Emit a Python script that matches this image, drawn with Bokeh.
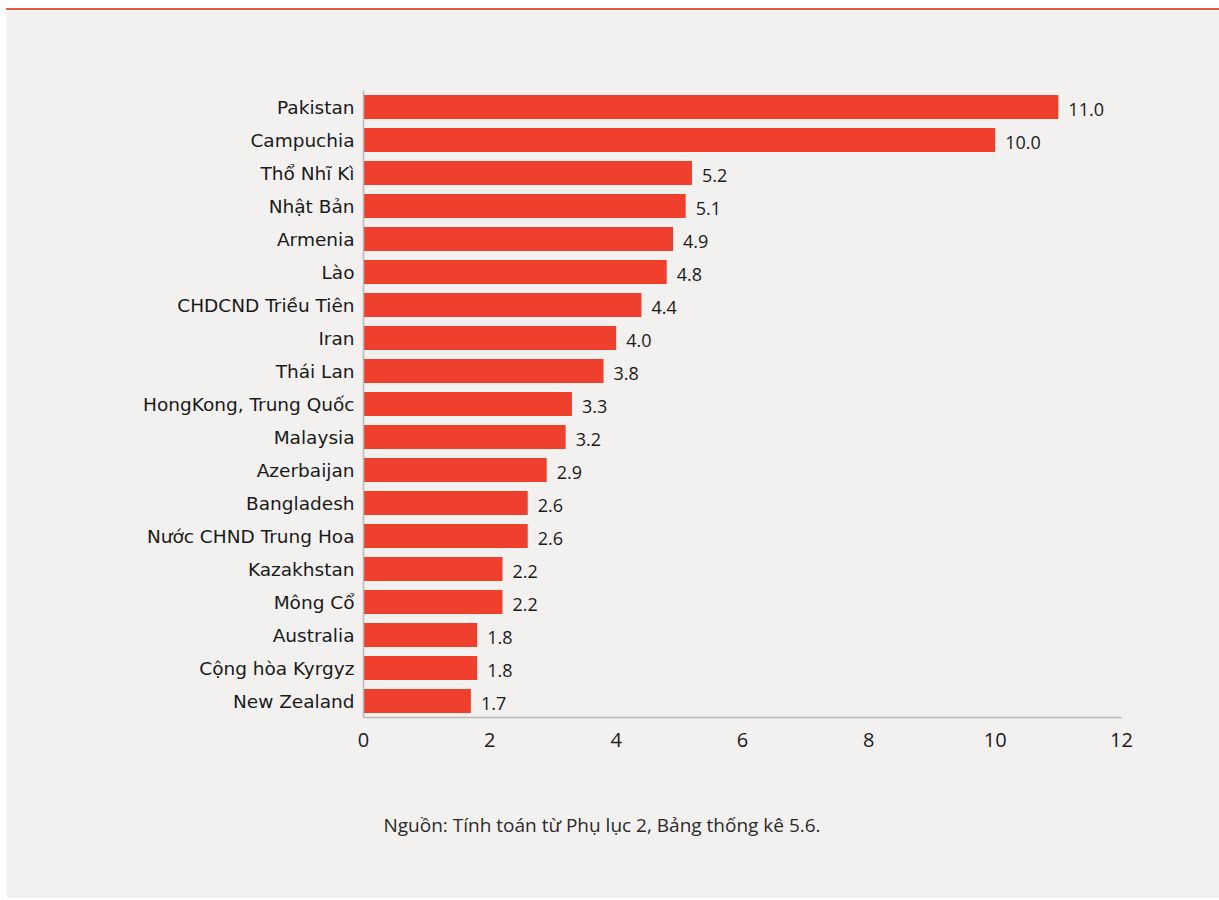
from bokeh.plotting import figure
from bokeh.models import FactorRange, Range1d, ColumnDataSource, FixedTicker, Title
from bokeh.core.properties import value
from bokeh.embed import file_html
from bokeh.resources import INLINE

countries = ["Pakistan", "Campuchia", "Thổ Nhĩ Kì", "Nhật Bản", "Armenia", "Lào",
             "CHDCND Triều Tiên", "Iran", "Thái Lan", "HongKong, Trung Quốc", "Malaysia",
             "Azerbaijan", "Bangladesh", "Nước CHND Trung Hoa", "Kazakhstan", "Mông Cổ",
             "Australia", "Cộng hòa Kyrgyz", "New Zealand"]
values = [11.0, 10.0, 5.2, 5.1, 4.9, 4.8, 4.4, 4.0, 3.8, 3.3, 3.2, 2.9, 2.6, 2.6, 2.2, 2.2, 1.8, 1.8, 1.7]
value_labels = ["11.0", "10.0", "5.2", "5.1", "4.9", "4.8", "4.4", "4.0", "3.8", "3.3", "3.2",
                "2.9", "2.6", "2.6", "2.2", "2.2", "1.8", "1.8", "1.7"]
x_ticks = [0, 2, 4, 6, 8, 10, 12]
caption = "Nguồn: Tính toán từ Phụ lục 2, Bảng thống kê 5.6."

BG = "#f2f1ef"
RED = "#ef402d"
AXIS = "#b8b8b8"

src = ColumnDataSource(dict(country=countries, value=values, label=value_labels))

p = figure(width=1213, height=890, output_backend="svg", toolbar_location=None,
           y_range=FactorRange(factors=list(reversed(countries))),
           x_range=Range1d(0, 12),
           min_border_left=357, min_border_right=98, min_border_top=80, min_border_bottom=183)
p.styles = {"margin-left": "6px", "margin-top": "8px", "border-top": "2px solid #e8553f"}
p.background_fill_color = BG
p.border_fill_color = BG
p.outline_line_color = None
p.grid.visible = False

p.hbar(y="country", right="value", left=0, height=0.73, source=src,
       fill_color=RED, line_color=None)
p.text(x="value", y="country", text="label", source=src, x_offset=10, y_offset=2,
       text_baseline="middle", text_align="left", text_font=value("Open Sans"),
       text_font_size="18px", text_color="#1a1a1a")

xa = p.xaxis[0]
xa.ticker = FixedTicker(ticks=x_ticks)
xa.axis_line_color = AXIS
xa.axis_line_width = 1.5
xa.major_tick_line_color = None
xa.minor_tick_line_color = None
xa.major_tick_out = 0
xa.major_label_standoff = 15
xa.major_label_text_font = "Open Sans"
xa.major_label_text_font_size = "20px"
xa.major_label_text_color = "#1a1a1a"

ya = p.yaxis[0]
ya.axis_line_color = AXIS
ya.axis_line_width = 1.5
ya.major_tick_line_color = None
ya.minor_tick_line_color = None
ya.major_tick_out = 0
ya.major_label_standoff = 9
ya.major_label_text_font = "DejaVu Sans"
ya.major_label_text_font_size = "18.5px"
ya.major_label_text_color = "#1a1a1a"

p.add_layout(Title(text=caption, align="left", offset=20, standoff=121,
                   text_font="Open Sans", text_font_size="19px",
                   text_font_style="normal", text_color="#2a2a2a"), "below")

open("out.html", "w").write(file_html(p, INLINE))
